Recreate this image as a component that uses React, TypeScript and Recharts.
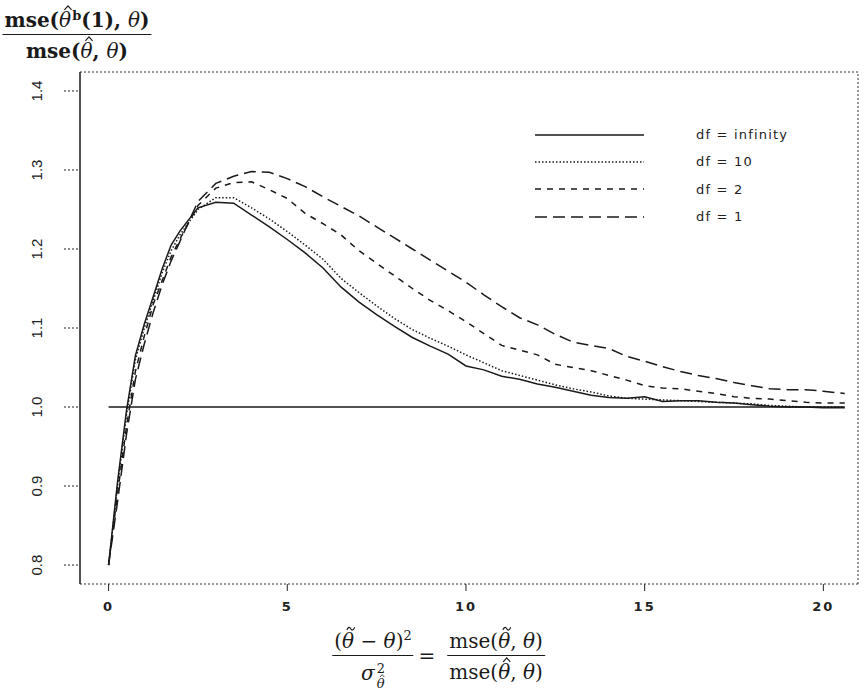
import React from 'react';
import { LineChart, Line, XAxis, YAxis, ReferenceLine, Legend } from 'recharts';

// x = (theta~ - theta)^2 / sigma^2
const xValues = [
  0, 0.25, 0.5, 0.75, 1, 1.25, 1.5, 1.75, 2, 2.5, 3, 3.5, 4, 4.5, 5, 5.5, 6, 6.5, 7, 7.5,
  8, 8.5, 9, 9.5, 10, 10.5, 11, 11.5, 12, 12.5, 13, 13.5, 14, 14.5, 15, 15.5, 16, 16.5, 17,
  17.5, 18, 18.5, 19, 19.5, 20, 20.6,
];

const dfInfinity = [
  0.8, 0.905, 0.995, 1.065, 1.105, 1.14, 1.175, 1.205, 1.223, 1.252, 1.259, 1.258, 1.243,
  1.228, 1.212, 1.195, 1.176, 1.152, 1.133, 1.117, 1.102, 1.088, 1.077, 1.067, 1.052, 1.047,
  1.039, 1.035, 1.029, 1.025, 1.02, 1.015, 1.012, 1.011, 1.013, 1.007, 1.008, 1.008, 1.006,
  1.005, 1.003, 1.001, 1.0, 1.0, 0.999, 0.999,
];

const df10 = [
  0.8, 0.9, 0.99, 1.06, 1.1, 1.135, 1.17, 1.198, 1.218, 1.25, 1.265, 1.265, 1.252, 1.238,
  1.222, 1.205, 1.187, 1.163, 1.145, 1.128, 1.112, 1.098, 1.087, 1.077, 1.066, 1.056, 1.046,
  1.04, 1.034, 1.028, 1.023, 1.019, 1.014, 1.011, 1.01, 1.009, 1.008, 1.007, 1.006, 1.005,
  1.004, 1.002, 1.001, 1.0, 1.0, 1.0,
];

const df2 = [
  0.8, 0.89, 0.975, 1.045, 1.09, 1.13, 1.16, 1.19, 1.213, 1.255, 1.277, 1.284, 1.285, 1.275,
  1.264, 1.245, 1.232, 1.218, 1.198, 1.182, 1.166, 1.15, 1.135, 1.122, 1.108, 1.093, 1.078,
  1.072, 1.066, 1.054, 1.05, 1.046, 1.04, 1.034, 1.027, 1.024, 1.023, 1.02, 1.017, 1.013,
  1.011, 1.01, 1.008, 1.006, 1.005, 1.005,
];

const df1 = [
  0.8, 0.88, 0.965, 1.035, 1.08, 1.12, 1.155, 1.185, 1.21, 1.26, 1.283, 1.292, 1.298, 1.297,
  1.289, 1.279, 1.266, 1.254, 1.242, 1.228, 1.214, 1.2, 1.186, 1.172, 1.158, 1.142, 1.127,
  1.113, 1.104, 1.092, 1.082, 1.078, 1.074, 1.064, 1.058, 1.051, 1.045, 1.04, 1.036, 1.031,
  1.027, 1.023, 1.022, 1.022, 1.02, 1.017,
];

const xTicks = [0, 5, 10, 15, 20];
const yTicks = [0.8, 0.9, 1.0, 1.1, 1.2, 1.3, 1.4];
const xDomain = [-0.8, 20.97];
const yDomain = [0.776, 1.424];
const baselineEnd = 20.6;

const series = [
  { key: 'inf', name: 'df = infinity', values: dfInfinity, dash: undefined },
  { key: 'df10', name: 'df = 10', values: df10, dash: '1.5 2' },
  { key: 'df2', name: 'df = 2', values: df2, dash: '6 6' },
  { key: 'df1', name: 'df = 1', values: df1, dash: '12 6' },
];

const data = xValues.map((x, i) => {
  const row: Record<string, number> = { x };
  series.forEach((s) => (row[s.key] = s.values[i]));
  return row;
});

const INK = '#1a1a1a';
const serif = '"DejaVu Serif", serif';

const YTick = (props: any) => {
  const { x, y, payload } = props;
  const bx = x - 22;
  return (
    <text
      x={bx}
      y={y}
      transform={`rotate(-90 ${bx} ${y})`}
      textAnchor="middle"
      fontFamily='"Liberation Sans Narrow", "Liberation Sans", sans-serif'
      fontSize={15}
      fill="#222"
    >
      {Number(payload.value).toFixed(1)}
    </text>
  );
};

const XTick = (props: any) => {
  const { x, y, payload } = props;
  return (
    <text
      x={x}
      y={y}
      dy={18}
      textAnchor="middle"
      fontFamily='"DejaVu Sans", sans-serif'
      fontWeight="bold"
      fontSize={13}
      letterSpacing={2}
      fill="#222"
    >
      {payload.value}
    </text>
  );
};

const LegendBox = () => (
  <div>
    {series.map((s) => (
      <div key={s.key} style={{ display: 'flex', alignItems: 'center', height: 27.3 }}>
        <svg width={112} height={14}>
          <line x1={3} y1={7} x2={113} y2={7} stroke={INK} strokeWidth={1.3} strokeDasharray={s.dash} />
        </svg>
        <span
          style={{
            marginLeft: 52,
            fontFamily: '"DejaVu Sans", sans-serif',
            fontSize: 13,
            letterSpacing: 1.2,
            color: '#222',
          }}
        >
          {s.name}
        </span>
      </div>
    ))}
  </div>
);

// theta with a hat or tilde drawn over it (small svg strokes, not glyphs)
const Theta = ({ mark }: { mark?: 'hat' | 'tilde' }) => (
  <span
    style={{
      position: 'relative',
      display: 'inline-block',
      fontStyle: 'italic',
      fontWeight: 'normal',
      lineHeight: '1em',
    }}
  >
    {'\u03B8'}
    {mark && (
      <svg
        viewBox="0 0 10 6"
        style={{ position: 'absolute', left: '0.2em', top: '-0.24em', width: '0.45em', height: '0.27em' }}
      >
        {mark === 'hat' ? (
          <path d="M1,5.5 L5,1 L9,5.5" fill="none" stroke={INK} strokeWidth={1.3} />
        ) : (
          <path d="M0.5,4.5 C2.5,0.5 4,1 5,3 C6,5 7.5,5.5 9.5,1.5" fill="none" stroke={INK} strokeWidth={1.3} />
        )}
      </svg>
    )}
  </span>
);

const fracStyle: React.CSSProperties = {
  position: 'absolute',
  display: 'flex',
  flexDirection: 'column',
  alignItems: 'center',
  transform: 'translateX(-50%)',
  fontFamily: serif,
  fontSize: 20,
  color: INK,
  whiteSpace: 'nowrap',
};

const Bar = () => <div style={{ alignSelf: 'stretch', borderTop: `1.3px solid ${INK}` }} />;

const Titles = () => (
  <div style={{ position: 'absolute', left: 0, top: 0, width: 864, height: 692, pointerEvents: 'none' }}>
    {/* y axis title, top left */}
    <div style={{ ...fracStyle, left: 77, top: 6 }}>
      <div style={{ lineHeight: '28px', fontWeight: 'bold', padding: '0 2px' }}>
        mse(
        <Theta mark="hat" />
        <span style={{ fontSize: 13, verticalAlign: '0.55em', lineHeight: 0, marginLeft: 1 }}>b</span>
        (1), <Theta />)
      </div>
      <Bar />
      <div style={{ lineHeight: '26px', fontWeight: 'bold', paddingTop: 3 }}>
        mse(
        <Theta mark="hat" />, <Theta />)
      </div>
    </div>

    {/* x axis title */}
    <div style={{ ...fracStyle, left: 373, top: 628 }}>
      <div style={{ lineHeight: '27px', padding: '0 2px' }}>
        (<Theta mark="tilde" /> {'\u2212'} <Theta />)
        <span style={{ fontSize: 13, verticalAlign: '0.6em', lineHeight: 0 }}>2</span>
      </div>
      <Bar />
      <div style={{ lineHeight: '30px', display: 'flex', alignItems: 'center' }}>
        <span style={{ fontStyle: 'italic' }}>{'\u03C3'}</span>
        <span
          style={{
            display: 'inline-flex',
            flexDirection: 'column',
            fontSize: 13,
            lineHeight: '13px',
            marginLeft: 2,
            paddingTop: 6,
          }}
        >
          <span>2</span>
          <span style={{ marginTop: 2 }}>
            <Theta mark="hat" />
          </span>
        </span>
      </div>
    </div>
    <div
      style={{
        position: 'absolute',
        left: 427,
        top: 643,
        transform: 'translateX(-50%)',
        fontFamily: serif,
        fontSize: 20,
        lineHeight: '26px',
        color: INK,
      }}
    >
      =
    </div>
    <div style={{ ...fracStyle, left: 496, top: 628 }}>
      <div style={{ lineHeight: '27px', padding: '0 2px' }}>
        mse(
        <Theta mark="tilde" />, <Theta />)
      </div>
      <Bar />
      <div style={{ lineHeight: '28px', paddingTop: 2 }}>
        mse(
        <Theta mark="hat" />, <Theta />)
      </div>
    </div>
  </div>
);

export default function App() {
  return (
    <div style={{ position: 'absolute', left: 0, top: 0, width: 864, height: 692, background: '#fff' }}>
      <LineChart
        width={864}
        height={692}
        data={data}
        margin={{ top: 72, right: 6, bottom: 78, left: 20 }}
      >
        <XAxis
          dataKey="x"
          type="number"
          domain={xDomain}
          ticks={xTicks}
          allowDataOverflow
          height={30}
          tickSize={7}
          tickMargin={2}
          tick={<XTick />}
          axisLine={{ stroke: '#333', strokeDasharray: '2 2' }}
          tickLine={{ stroke: '#222' }}
        />
        <YAxis
          type="number"
          domain={yDomain}
          ticks={yTicks}
          allowDataOverflow
          width={60}
          tickSize={16}
          tickMargin={0}
          tick={<YTick />}
          axisLine={{ stroke: INK, strokeWidth: 1.5 }}
          tickLine={{ stroke: '#222', strokeDasharray: '2 2' }}
        />
        <ReferenceLine y={yDomain[1]} stroke="#333" strokeDasharray="2 2" ifOverflow="visible" />
        <ReferenceLine x={xDomain[1]} stroke="#333" strokeDasharray="2 2" ifOverflow="visible" />
        <ReferenceLine
          segment={[
            { x: 0, y: 1 },
            { x: baselineEnd, y: 1 },
          ]}
          stroke={INK}
          strokeWidth={1.3}
        />
        {series.map((s) => (
          <Line
            key={s.key}
            type="linear"
            dataKey={s.key}
            name={s.name}
            stroke={INK}
            strokeWidth={1.5}
            strokeDasharray={s.dash}
            dot={false}
            activeDot={false}
            isAnimationActive={false}
          />
        ))}
        <Legend
          layout="vertical"
          align="center"
          verticalAlign="middle"
          content={<LegendBox />}
          wrapperStyle={{ left: 532, top: 121, width: 320 }}
        />
      </LineChart>
      <Titles />
    </div>
  );
}
